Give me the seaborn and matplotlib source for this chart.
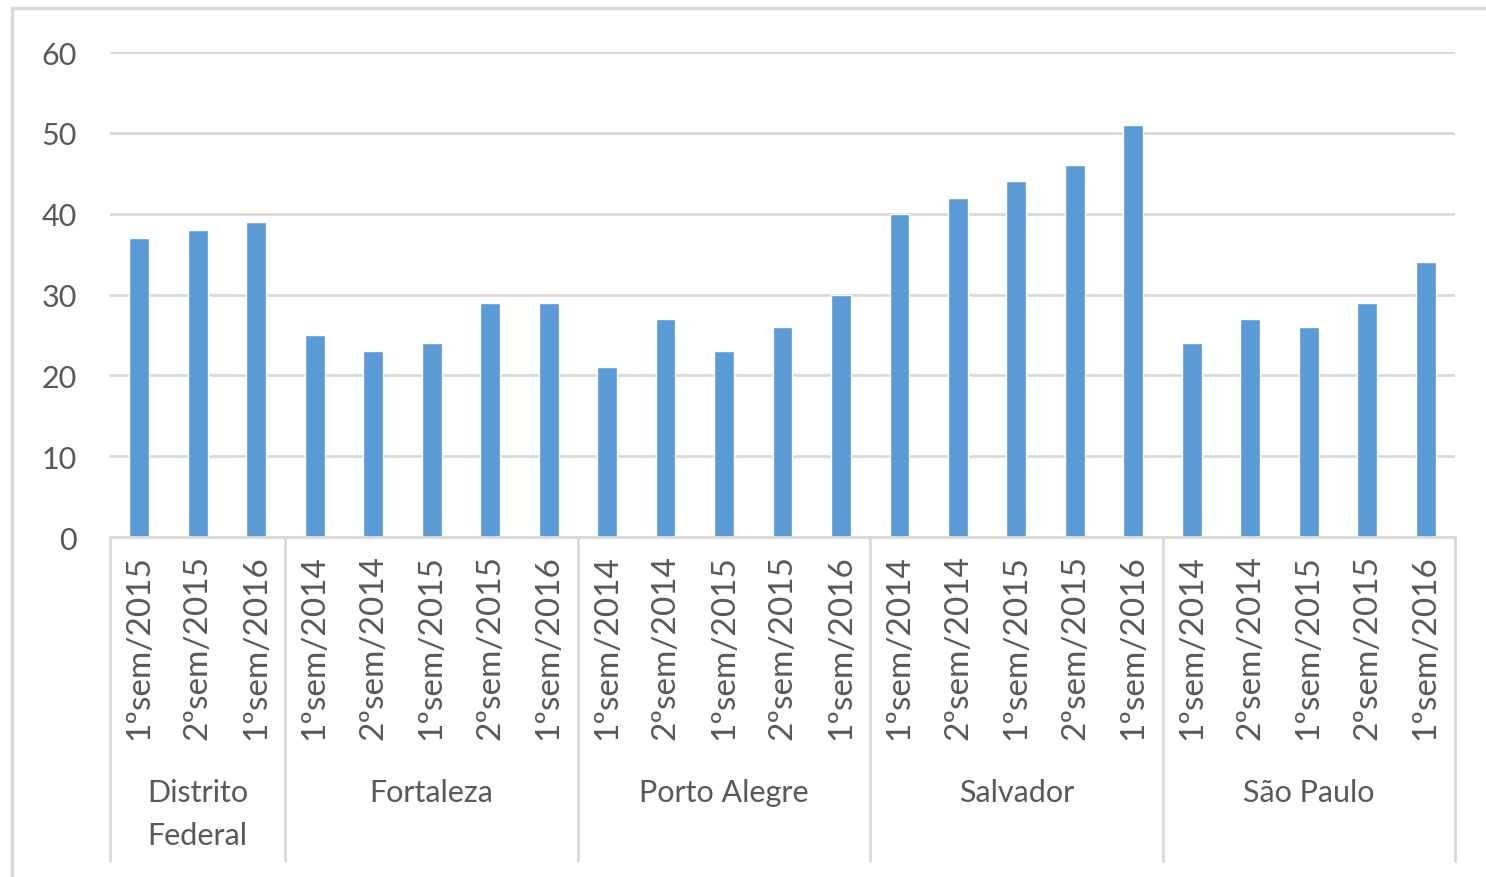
import pandas as pd
import matplotlib.pyplot as plt
import matplotlib.transforms as mtransforms
import seaborn as sns

# dados
cidades = ['Distrito\nFederal', 'Fortaleza', 'Porto Alegre', 'Salvador', 'São Paulo']
semestres = [
    ['1ºsem/2015', '2ºsem/2015', '1ºsem/2016'],
    ['1ºsem/2014', '2ºsem/2014', '1ºsem/2015', '2ºsem/2015', '1ºsem/2016'],
    ['1ºsem/2014', '2ºsem/2014', '1ºsem/2015', '2ºsem/2015', '1ºsem/2016'],
    ['1ºsem/2014', '2ºsem/2014', '1ºsem/2015', '2ºsem/2015', '1ºsem/2016'],
    ['1ºsem/2014', '2ºsem/2014', '1ºsem/2015', '2ºsem/2015', '1ºsem/2016'],
]
valores = [
    [37, 38, 39],
    [25, 23, 24, 29, 29],
    [21, 27, 23, 26, 30],
    [40, 42, 44, 46, 51],
    [24, 27, 26, 29, 34],
]

rows = []
for c, sems, vals in zip(cidades, semestres, valores):
    for s, v in zip(sems, vals):
        rows.append({'cidade': c, 'semestre': s, 'valor': v, 'chave': c + '|' + s})
df = pd.DataFrame(rows)

sns.set_theme(style='white')
plt.rcParams['font.family'] = ['Lato', 'DejaVu Sans']
cinza = '#595959'
linha = '#D9D9D9'

fig = plt.figure(figsize=(14.86, 8.78), dpi=100)
ax = fig.add_axes([110 / 1486, 1 - 538 / 878, (1455 - 110) / 1486, (538 - 53) / 878])

sns.barplot(data=df, x='chave', y='valor', order=df['chave'].tolist(),
            color='#5B9BD5', saturation=1, width=0.34, ax=ax)

ax.set_ylim(0, 60)
ax.set_xlim(-0.5, len(df) - 0.5)
ax.set_yticks(range(0, 61, 10))
ax.yaxis.grid(True, color=linha, linewidth=2)
ax.set_axisbelow(True)
for s in ['left', 'right', 'top']:
    ax.spines[s].set_visible(False)
ax.spines['bottom'].set_color(linha)
ax.spines['bottom'].set_linewidth(2)

ax.set_xticks(range(len(df)))
ax.set_xticklabels(df['semestre'], rotation=90, fontsize=24, color=cinza, va='top')
ax.tick_params(axis='x', length=0, pad=12)
ax.tick_params(axis='y', length=0, pad=24, labelsize=22, labelcolor=cinza)
ax.set_xlabel('')
ax.set_ylabel('')

# rotulos de grupo e separadores
trans = mtransforms.blended_transform_factory(ax.transData, ax.transAxes)
inicio = -0.5
ax.plot([inicio, inicio], [0, -0.668], color=linha, linewidth=2, transform=trans, clip_on=False)
for c, vals in zip(cidades, valores):
    fim = inicio + len(vals)
    ax.plot([fim, fim], [0, -0.668], color=linha, linewidth=2, transform=trans, clip_on=False)
    yy = -0.526 if '\n' not in c else -0.571
    ax.text((inicio + fim) / 2, yy, c, transform=trans, ha='center', va='center',
            fontsize=22, color=cinza, linespacing=1.65)
    inicio = fim

# moldura do grafico
fig.patches.append(plt.Rectangle((12 / 1486, -0.1), 1.2, 1 - 9 / 878 + 0.1, transform=fig.transFigure,
                                 fill=False, edgecolor=linha, linewidth=2.5, zorder=-1))

fig.savefig('out.png', dpi=100)
